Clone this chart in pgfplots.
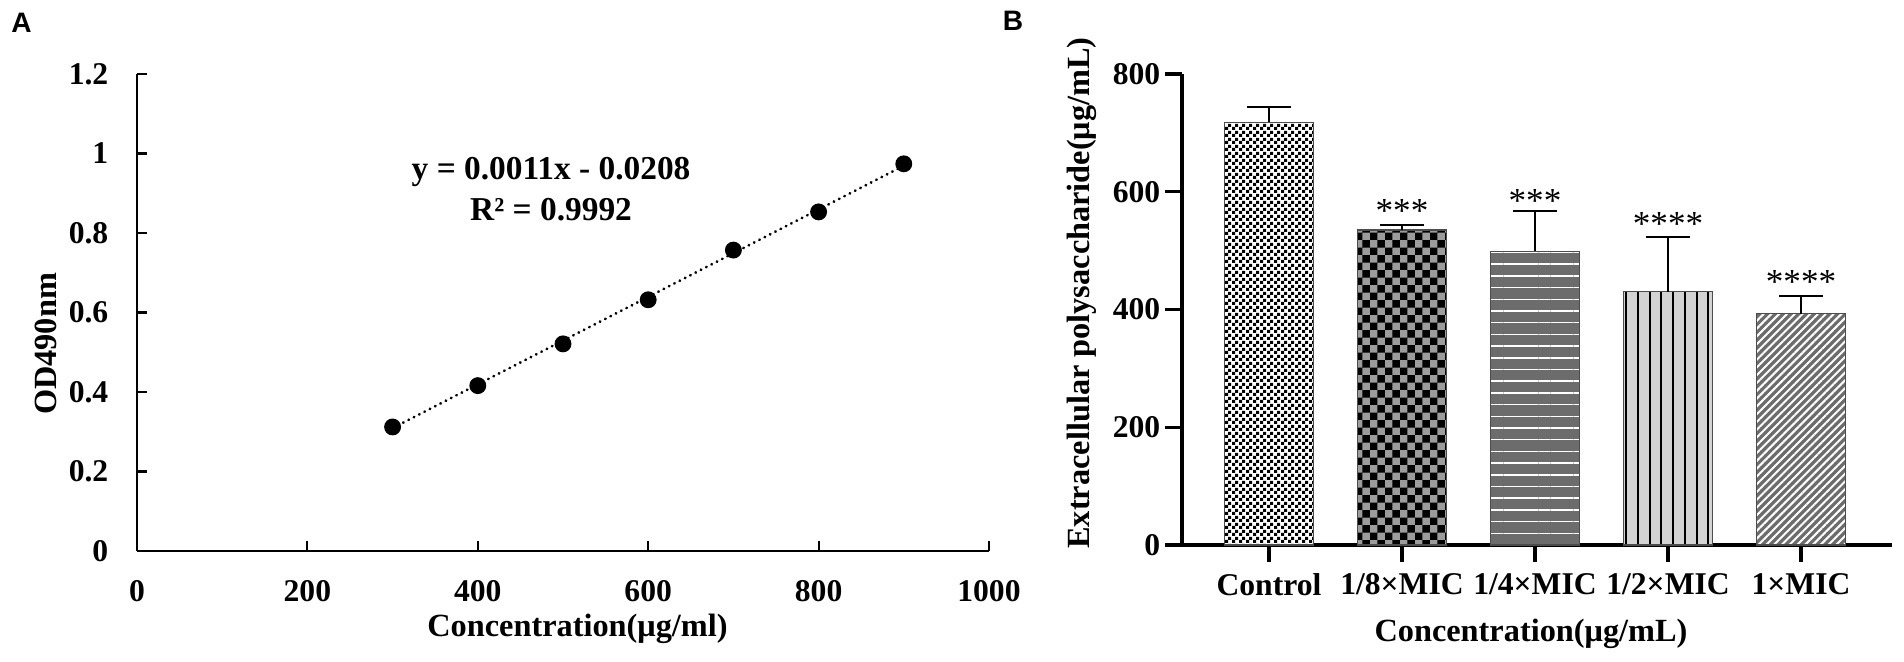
\documentclass[border=0pt]{standalone}
\usepackage{fontspec}
\setmainfont{Liberation Serif}
\newfontfamily\sansfont{Liberation Sans}
\usepackage{pgfplots}
\pgfplotsset{compat=1.18}
\usetikzlibrary{patterns,patterns.meta}

\pgfdeclarepatternformonly{checkfine}{\pgfpointorigin}{\pgfpoint{0.7mm}{0.7mm}}{\pgfpoint{0.7mm}{0.7mm}}{%
  \pgfpathrectangle{\pgfpointorigin}{\pgfpoint{0.35mm}{0.35mm}}%
  \pgfpathrectangle{\pgfpoint{0.35mm}{0.35mm}}{\pgfpoint{0.35mm}{0.35mm}}%
  \pgfusepath{fill}}
\pgfdeclarepatternformonly{checkbig}{\pgfpointorigin}{\pgfpoint{1.54mm}{1.54mm}}{\pgfpoint{1.54mm}{1.54mm}}{%
  \pgfpathrectangle{\pgfpointorigin}{\pgfpoint{0.77mm}{0.77mm}}%
  \pgfpathrectangle{\pgfpoint{0.77mm}{0.77mm}}{\pgfpoint{0.77mm}{0.77mm}}%
  \pgfusepath{fill}}

\definecolor{darkbar}{HTML}{6C6C6C}
\definecolor{lightbar}{HTML}{D3D3D3}
\definecolor{midgray}{HTML}{9C9C9C}

\newcommand{\tickfont}{\fontsize{9}{10}\selectfont\bfseries}
\newcommand{\labfont}{\fontsize{9.2}{11}\selectfont\bfseries}

\begin{document}
\begin{tikzpicture}
\useasboundingbox (0,0) rectangle (190.4mm,66.2mm);

% Panel letters
\node[font=\sansfont\bfseries\fontsize{8}{9}\selectfont] at (2.15mm,63.9mm) {A};
\node[font=\sansfont\bfseries\fontsize{8}{9}\selectfont] at (101.3mm,64.1mm) {B};

% ---------------- Panel A ----------------
\begin{axis}[
  at={(13.7mm,11.1mm)}, anchor=south west,
  scale only axis, width=85.2mm, height=47.7mm,
  xmin=0, xmax=1000, ymin=0, ymax=1.2,
  axis lines=left,
  axis line style={-, line width=0.6pt},
  tick style={line width=0.6pt, black},
  tick align=inside, major tick length=1mm,
  xtick={0,200,400,600,800,1000},
  ytick={0,0.2,0.4,0.6,0.8,1,1.2},
  /pgf/number format/assume math mode=true,
  /pgf/number format/1000 sep={},
  tick label style={font=\tickfont},
  xticklabel style={inner sep=0pt, anchor=north, yshift=-2.9mm},
  yticklabel style={inner sep=0pt, anchor=east, xshift=-2.8mm},
  xlabel={Concentration(μg/ml)},
  ylabel={OD490nm},
  label style={font=\labfont},
  xlabel style={at={(axis description cs:0.517,-0.1635)}, anchor=center},
  ylabel style={at={(axis description cs:-0.107,0.434)}, anchor=center, rotate=0},
  clip=false,
]
\addplot[black, line width=0.8pt, dash pattern=on 0.1pt off 1.6pt, line cap=round]
  coordinates {(300,0.3092) (900,0.9692)};
\addplot[only marks, mark=*, mark size=2.2pt, black]
  coordinates {(300,0.312) (400,0.416) (500,0.521) (600,0.632) (700,0.757) (800,0.853) (900,0.974)};
\node[font=\fontsize{9.5}{11}\selectfont\bfseries] at (axis cs:486,0.953) {y = 0.0011x - 0.0208};
\node[font=\fontsize{9.5}{11}\selectfont\bfseries] at (axis cs:486,0.858) {R² = 0.9992};
\end{axis}

% ---------------- Panel B ----------------
\begin{axis}[
  at={(118.2mm,11.7mm)}, anchor=south west,
  scale only axis, width=71.0mm, height=47.1mm,
  xmin=-0.654, xmax=4.684, ymin=0, ymax=800,
  axis lines=left,
  axis line style={-, line width=1.1pt},
  tick style={line width=0.9pt, black},
  tick align=outside, major tick length=1.7mm,
  xtick={0,1,2,3,4},
  xticklabels={Control,1/8×MIC,1/4×MIC,1/2×MIC,1×MIC},
  ytick={0,200,400,600,800},
  /pgf/number format/assume math mode=true,
  tick label style={font=\tickfont},
  xticklabel style={inner sep=0pt, anchor=north, yshift=-1.1mm},
  yticklabel style={inner sep=0pt, anchor=east, xshift=-0.4mm},
  xlabel={Concentration(μg/mL)},
  ylabel={Extracellular polysaccharide(μg/mL)},
  label style={font=\labfont},
  xlabel style={at={(axis description cs:0.4915,-0.189)}, anchor=center},
  ylabel style={at={(axis description cs:-0.141,0.535)}, anchor=center, rotate=0},
  clip=false,
  every axis plot/.append style={ybar, bar width=8.9mm, bar shift=0pt, draw=black!70, line width=0.3pt},
  error bars/error bar style={line width=0.6pt, black},
  error bars/error mark options={rotate=90, mark size=2.2mm, line width=0.6pt, black},
]
\addplot[fill=white, postaction={pattern=checkfine, pattern color=black},
  error bars/.cd, y dir=plus, y explicit]
  coordinates {(0,718) +- (0,26)};
\addplot[fill=midgray, postaction={pattern=checkbig, pattern color=black},
  error bars/.cd, y dir=plus, y explicit]
  coordinates {(1,535) +- (0,8)};
\addplot[fill=darkbar, postaction={pattern={Lines[angle=0,distance=1.17mm,line width=0.15mm]}, pattern color=white},
  error bars/.cd, y dir=plus, y explicit]
  coordinates {(2,499) +- (0,68)};
\addplot[fill=lightbar, postaction={pattern={Lines[angle=90,distance=1.17mm,line width=0.2mm]}, pattern color=black},
  error bars/.cd, y dir=plus, y explicit]
  coordinates {(3,430) +- (0,93)};
\addplot[fill=darkbar, postaction={pattern={Lines[angle=45,distance=0.55mm,line width=0.2mm]}, pattern color=white},
  error bars/.cd, y dir=plus, y explicit]
  coordinates {(4,393) +- (0,30)};
\node[font=\fontsize{10}{11}\selectfont] at (axis cs:1,568) {***};
\node[font=\fontsize{10}{11}\selectfont] at (axis cs:2,585) {***};
\node[font=\fontsize{10}{11}\selectfont] at (axis cs:3,545) {****};
\node[font=\fontsize{10}{11}\selectfont] at (axis cs:4,447) {****};
\end{axis}
\end{tikzpicture}
\end{document}
